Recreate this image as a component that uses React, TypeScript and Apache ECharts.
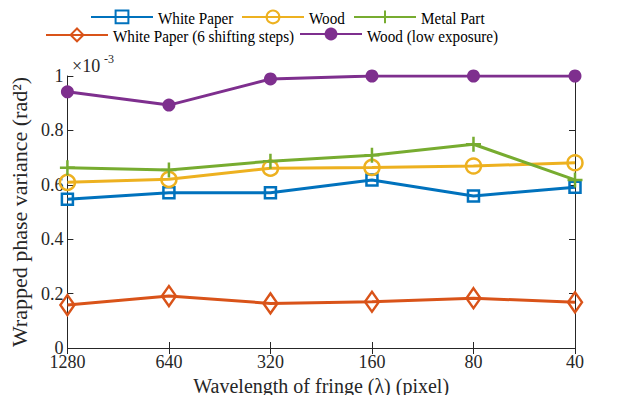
import React, { useEffect, useRef } from "react";
import * as echarts from "echarts";

const categories = ["1280", "640", "320", "160", "80", "40"];
const whitePaper = [0.547, 0.571, 0.571, 0.618, 0.559, 0.591];
const wood = [0.609, 0.62, 0.661, 0.664, 0.669, 0.681];
const metalPart = [0.663, 0.654, 0.687, 0.709, 0.749, 0.618];
const whitePaper6 = [0.158, 0.191, 0.164, 0.17, 0.183, 0.168];
const woodLow = [0.942, 0.893, 0.989, 1.0, 1.0, 1.0];
const yTicks = [0, 0.2, 0.4, 0.6, 0.8, 1];
const seriesNames = [
  "White Paper",
  "Wood",
  "Metal Part",
  "White Paper (6 shifting steps)",
  "Wood (low exposure)",
];

const FONT = "Liberation Serif";
const AX = "#262626";

export default function App() {
  const ref = useRef<HTMLDivElement>(null);
  useEffect(() => {
    const chart = echarts.init(ref.current!, null, { renderer: "svg" });
    const mk = (
      name: string,
      data: number[],
      color: string,
      symbol: string,
      size: any,
      filled: boolean
    ) => ({
      name,
      type: "line",
      data,
      symbol,
      symbolSize: size,
      showAllSymbol: true,
      lineStyle: { color, width: 3 },
      itemStyle: filled
        ? { color, borderColor: color, borderWidth: 0 }
        : { color: "none", borderColor: color, borderWidth: 2.5 },
      emphasis: { disabled: true },
    });
    // legend layout: [line start x, row centre y]
    const legendPos: [number, number][] = [
      [90, 16],
      [241, 16],
      [353, 16],
      [45, 34],
      [299, 34],
    ];
    const legends = seriesNames.map((n, i) => ({
      data: [n],
      left: legendPos[i][0],
      top: legendPos[i][1] - 8,
      itemWidth: 62,
      itemHeight: 16,
      padding: 0,
      formatter: () => "",
      selectedMode: false,
    }));
    const legendTexts = seriesNames.map((n, i) => ({
      type: "text",
      x: legendPos[i][0] + 68,
      y: legendPos[i][1] + 2.5,
      scaleX: 0.92,
      style: {
        text: n,
        font: `16.5px ${FONT}`,
        fill: "#000",
        verticalAlign: "middle",
        align: "left",
      },
    }));
    chart.setOption({
      animation: false,
      textStyle: { fontFamily: FONT },
      legend: legends,
      grid: { left: 67, right: 56, top: 76, bottom: 55 },
      xAxis: [
        {
          type: "category",
          data: categories,
          boundaryGap: false,
          name: "Wavelength of fringe (λ) (pixel)",
          nameLocation: "middle",
          nameGap: 26,
          nameTextStyle: { fontFamily: FONT, fontSize: 20, color: "#262626" },
          axisLine: { lineStyle: { color: AX, width: 1 } },
          axisTick: { inside: true, length: 6, alignWithLabel: true, lineStyle: { color: AX } },
          axisLabel: { fontFamily: FONT, fontSize: 18, color: "#262626", margin: 5 },
          splitLine: { show: false },
        },
        {
          type: "category",
          data: categories,
          boundaryGap: false,
          position: "top",
          axisLine: { lineStyle: { color: AX, width: 1 } },
          axisTick: { inside: true, length: 6, lineStyle: { color: AX } },
          axisLabel: { show: false },
        },
      ],
      yAxis: [
        {
          type: "value",
          min: 0,
          max: 1,
          interval: 0.2,
          name: "Wrapped phase variance (rad²)",
          nameLocation: "middle",
          nameGap: 33,
          nameTextStyle: { fontFamily: FONT, fontSize: 22, color: "#262626" },
          axisLine: { show: true, lineStyle: { color: AX, width: 1 } },
          axisTick: { show: true, inside: true, length: 6, lineStyle: { color: AX } },
          axisLabel: {
            fontFamily: FONT,
            fontSize: 18,
            color: "#262626",
            margin: 4,
            formatter: (v: number) => {
              const t = yTicks.find((x) => Math.abs(x - v) < 1e-9);
              return t === undefined ? "" : String(t);
            },
          },
          splitLine: { show: false },
        },
        {
          type: "value",
          min: 0,
          max: 1,
          interval: 0.2,
          position: "right",
          axisLine: { show: true, lineStyle: { color: AX, width: 1 } },
          axisTick: { show: true, inside: true, length: 6, lineStyle: { color: AX } },
          axisLabel: { show: false },
          splitLine: { show: false },
        },
      ],
      graphic: [
        ...legendTexts,
        {
          type: "text",
          left: 72,
          top: 57,
          style: { text: "×10", font: `18px ${FONT}`, fill: "#262626" },
        },
        {
          type: "text",
          left: 104,
          top: 53,
          style: { text: "-3", font: `12px ${FONT}`, fill: "#262626" },
        },
      ],
      series: [
        mk(seriesNames[0], whitePaper, "#0072BD", "rect", 11, false),
        mk(seriesNames[1], wood, "#EDB120", "circle", 15, false),
        mk(seriesNames[2], metalPart, "#77AC30", "path://M7,0L7,14M0,7L14,7", 15, false),
        mk(seriesNames[3], whitePaper6, "#D95319", "diamond", [14, 20], false),
        mk(seriesNames[4], woodLow, "#7E2F8E", "circle", 13, true),
      ],
    });
    return () => chart.dispose();
  }, []);
  return <div ref={ref} style={{ width: 631, height: 403, margin: -8 }} />;
}
